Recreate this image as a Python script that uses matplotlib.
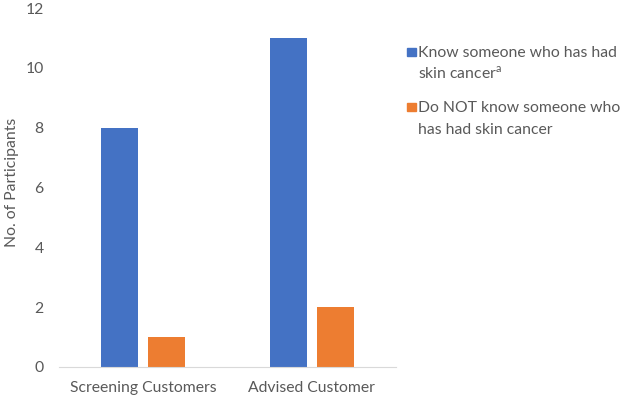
import matplotlib
matplotlib.use("Agg")
import matplotlib.pyplot as plt
from matplotlib.patches import Rectangle

categories = ["Screening Customers", "Advised Customer"]
know_vals = [8, 11]
not_know_vals = [1, 2]
series_labels = [["Know someone who has had", "skin cancer$^\\mathregular{a}$"],
                 ["Do NOT know someone who", "has had skin cancer"]]
yticks = [0, 2, 4, 6, 8, 10, 12]

BLUE = "#4472C4"
ORANGE = "#ED7D31"
GREY = "#595959"
FS = 11.3

plt.rcParams["font.family"] = ["Lato", "DejaVu Sans"]

fig = plt.figure(figsize=(6.22, 4.0), dpi=100)
ax = fig.add_axes([59 / 622, 33 / 400, (396 - 59) / 622, (367 - 8) / 400])

x = range(len(categories))
w = 0.22
off = 0.14
ax.bar([i - off for i in x], know_vals, width=w, color=BLUE)
ax.bar([i + off for i in x], not_know_vals, width=w, color=ORANGE)

ax.set_xlim(-0.5, 1.5)
ax.set_ylim(0, 12)
ax.set_yticks(yticks)
ax.set_xticks(list(x))
ax.set_xticklabels(categories)
ax.tick_params(axis="both", length=0, labelsize=FS, labelcolor=GREY)
ax.tick_params(axis="y", pad=11)
ax.tick_params(axis="x", pad=10)
for s in ["top", "right", "left"]:
    ax.spines[s].set_visible(False)
ax.spines["bottom"].set_color("#D9D9D9")
fig.text(12 / 622, 1 - 182 / 400, "No. of Participants", rotation=90,
         fontsize=FS, color=GREY, ha="center", va="center")

# legend drawn by hand so the marker lines up with the first text line
for i, (lines, col) in enumerate(zip(series_labels, [BLUE, ORANGE])):
    base_px = 57 + i * 55
    fig.patches.append(Rectangle((407 / 622, 1 - (base_px - 1) / 400), 8.5 / 622, 8.5 / 400,
                                 transform=fig.transFigure, color=col))
    for j, line in enumerate(lines):
        fig.text(418 / 622, 1 - (base_px + 22 * j) / 400, line, fontsize=FS,
                 color=GREY, va="baseline", ha="left")

fig.savefig("out.png", dpi=100)
